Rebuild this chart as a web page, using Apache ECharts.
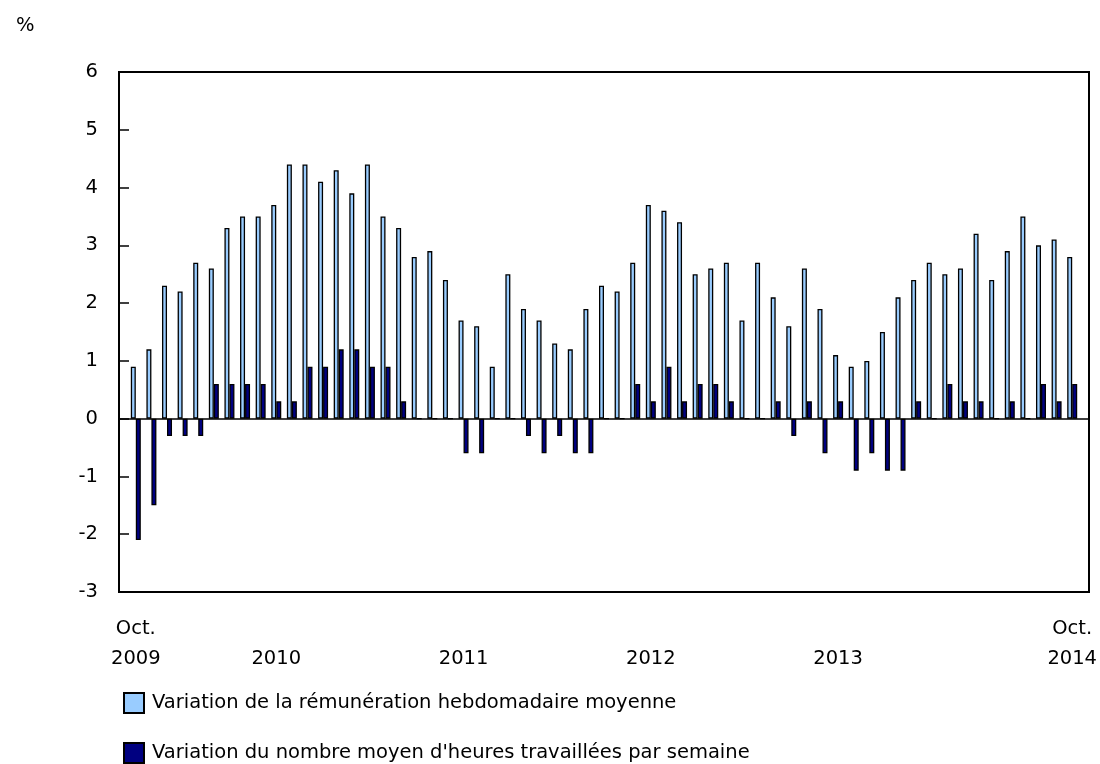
<!DOCTYPE html>
<html>
<head>
<meta charset="utf-8">
<title>Rémunération hebdomadaire et heures travaillées</title>
<script src="https://cdn.jsdelivr.net/npm/echarts@6/dist/echarts.min.js"></script>
<style>
  html, body { margin: 0; padding: 0; background: #fff; }
  #chart { width: 1100px; height: 764px; }
</style>
</head>
<body>
<div id="chart"></div>
<script>
  // mois, oct. 2009 à oct. 2014
  var months = [
    '2009-10', '2009-11', '2009-12',
    '2010-01', '2010-02', '2010-03', '2010-04', '2010-05', '2010-06',
    '2010-07', '2010-08', '2010-09', '2010-10', '2010-11', '2010-12',
    '2011-01', '2011-02', '2011-03', '2011-04', '2011-05', '2011-06',
    '2011-07', '2011-08', '2011-09', '2011-10', '2011-11', '2011-12',
    '2012-01', '2012-02', '2012-03', '2012-04', '2012-05', '2012-06',
    '2012-07', '2012-08', '2012-09', '2012-10', '2012-11', '2012-12',
    '2013-01', '2013-02', '2013-03', '2013-04', '2013-05', '2013-06',
    '2013-07', '2013-08', '2013-09', '2013-10', '2013-11', '2013-12',
    '2014-01', '2014-02', '2014-03', '2014-04', '2014-05', '2014-06',
    '2014-07', '2014-08', '2014-09', '2014-10'
  ];

  // variation de la rémunération hebdomadaire moyenne (%)
  var earnings = [
    0.9, 1.2, 2.3,
    2.2, 2.7, 2.6, 3.3, 3.5, 3.5, 3.7, 4.4, 4.4, 4.1, 4.3, 3.9,
    4.4, 3.5, 3.3, 2.8, 2.9, 2.4, 1.7, 1.6, 0.9, 2.5, 1.9, 1.7,
    1.3, 1.2, 1.9, 2.3, 2.2, 2.7, 3.7, 3.6, 3.4, 2.5, 2.6, 2.7,
    1.7, 2.7, 2.1, 1.6, 2.6, 1.9, 1.1, 0.9, 1.0, 1.5, 2.1, 2.4,
    2.7, 2.5, 2.6, 3.2, 2.4, 2.9, 3.5, 3.0, 3.1, 2.8
  ];

  // variation du nombre moyen d'heures travaillées par semaine (%)
  var hours = [
    -2.1, -1.5, -0.3,
    -0.3, -0.3, 0.6, 0.6, 0.6, 0.6, 0.3, 0.3, 0.9, 0.9, 1.2, 1.2,
    0.9, 0.9, 0.3, 0, 0, 0, -0.6, -0.6, 0, 0, -0.3, -0.6,
    -0.3, -0.6, -0.6, 0, 0, 0.6, 0.3, 0.9, 0.3, 0.6, 0.6, 0.3,
    0, 0, 0.3, -0.3, 0.3, -0.6, 0.3, -0.9, -0.6, -0.9, -0.9, 0.3,
    0, 0.6, 0.3, 0.3, 0, 0.3, 0, 0.6, 0.3, 0.6
  ];

  // étiquettes de l'axe des x
  var xTickLabels = {
    '2009-10': 'Oct.\n2009',
    '2010-07': '\n2010',
    '2011-07': '\n2011',
    '2012-07': '\n2012',
    '2013-07': '\n2013',
    '2014-10': 'Oct.\n2014'
  };

  var yTicks = { min: -3, max: 6, interval: 1 };

  var seriesNames = [
    'Variation de la rémunération hebdomadaire moyenne',
    'Variation du nombre moyen d\'heures travaillées par semaine'
  ];

  var font = '"DejaVu Sans", Verdana, sans-serif';
  var fontSize = 19.5;

  function legendItem(name, top) {
    return {
      left: 118,
      top: top,
      itemWidth: 20,
      itemHeight: 20,
      icon: 'rect',
      textStyle: { fontFamily: font, fontSize: fontSize, color: '#000', padding: [0, 0, 0, 3] },
      data: [name]
    };
  }

  var chart = echarts.init(document.getElementById('chart'));

  var option = {
    animation: false,
    textStyle: { fontFamily: font, color: '#000' },
    title: {
      text: '%',
      left: 11,
      top: 11,
      textStyle: { fontFamily: font, fontSize: fontSize, fontWeight: 'normal', color: '#000' }
    },
    legend: [
      legendItem(seriesNames[0], 687),
      legendItem(seriesNames[1], 737)
    ],
    grid: [
      // cadre + axe des y
      { left: 119, right: 11, top: 72, bottom: 172, show: true, borderColor: '#000', borderWidth: 2 },
      // zone des barres
      { left: 128, right: 18, top: 72, bottom: 172 }
    ],
    xAxis: [
      {
        gridIndex: 0,
        type: 'value',
        min: 0,
        max: 1,
        axisLine: { show: true, onZero: true, lineStyle: { color: '#000', width: 1.5 } },
        axisTick: { show: false },
        axisLabel: { show: false },
        splitLine: { show: false }
      },
      {
        gridIndex: 1,
        type: 'category',
        data: months,
        boundaryGap: true,
        axisLine: { show: false },
        axisTick: { show: false },
        axisLabel: {
          interval: 0,
          margin: 22,
          fontSize: fontSize,
          lineHeight: 30,
          color: '#000',
          formatter: function (val) { return xTickLabels[val] || ''; }
        }
      }
    ],
    yAxis: [
      {
        gridIndex: 0,
        type: 'value',
        min: yTicks.min,
        max: yTicks.max,
        interval: yTicks.interval,
        axisLine: { show: true, lineStyle: { color: '#000', width: 2 } },
        axisTick: { show: true, inside: true, length: 10, lineStyle: { color: '#000', width: 1.5 } },
        axisLabel: { margin: 21, fontSize: fontSize, color: '#000' },
        splitLine: { show: false }
      },
      {
        gridIndex: 1,
        type: 'value',
        min: yTicks.min,
        max: yTicks.max,
        interval: yTicks.interval,
        show: false,
        splitLine: { show: false }
      }
    ],
    series: [
      {
        name: seriesNames[0],
        type: 'bar',
        xAxisIndex: 1,
        yAxisIndex: 1,
        data: earnings,
        barWidth: 5,
        barGap: '0%',
        itemStyle: { color: '#99ccff', borderColor: '#000', borderWidth: 1.3 }
      },
      {
        name: seriesNames[1],
        type: 'bar',
        xAxisIndex: 1,
        yAxisIndex: 1,
        data: hours,
        barWidth: 5,
        barGap: '0%',
        itemStyle: { color: '#000080', borderColor: '#000', borderWidth: 1.3 }
      }
    ]
  };

  chart.setOption(option);
</script>
</body>
</html>
